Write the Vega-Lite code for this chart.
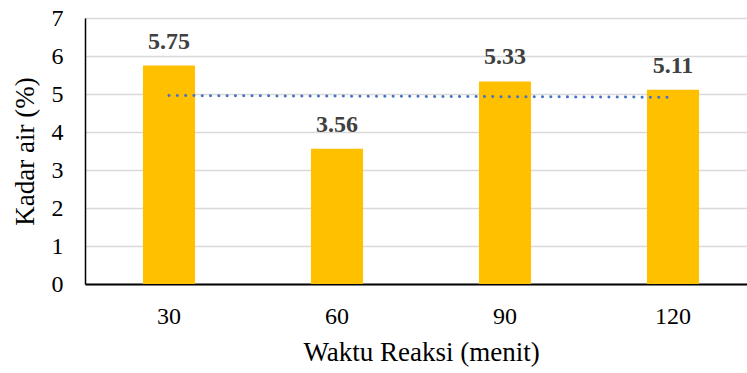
{
  "$schema": "https://vega.github.io/schema/vega-lite/v6.json",
  "autosize": {"type": "none"},
  "padding": {"left": 85, "top": 18, "right": 0, "bottom": 89},
  "width": 672,
  "height": 266,
  "background": "white",
  "config": {
    "view": {"stroke": null},
    "font": "Liberation Serif",
    "axis": {"labelFont": "Liberation Serif", "titleFont": "Liberation Serif", "labelColor": "black", "titleColor": "black", "titleFontWeight": "normal"}
  },
  "data": {
    "values": [
      {"waktu": "30", "kadar": 5.75, "trend": 4.96},
      {"waktu": "60", "kadar": 3.56, "trend": 4.945},
      {"waktu": "90", "kadar": 5.33, "trend": 4.93},
      {"waktu": "120", "kadar": 5.11, "trend": 4.915}
    ]
  },
  "encoding": {
    "x": {
      "field": "waktu",
      "type": "ordinal",
      "sort": null,
      "scale": {"paddingInner": 0.69, "paddingOuter": 0.345},
      "axis": {
        "title": "Waktu Reaksi (menit)",
        "titleFontSize": 27,
        "titlePadding": 11,
        "labelFontSize": 24,
        "labelAngle": 0,
        "labelPadding": 20,
        "ticks": false,
        "domainColor": "black",
        "domainWidth": 2,
        "grid": false
      }
    }
  },
  "layer": [
    {
      "mark": {"type": "bar", "color": "#FFC000"},
      "encoding": {
        "y": {
          "field": "kadar",
          "type": "quantitative",
          "scale": {"domain": [0, 7]},
          "axis": {
            "title": "Kadar air (%)",
            "titleFontSize": 27,
            "titlePadding": 12,
            "labelFontSize": 24,
            "labelPadding": 22,
            "ticks": false,
            "tickCount": 7,
            "domainColor": "black",
            "domainWidth": 1.5,
            "gridColor": "#d9d9d9",
            "gridWidth": 1.5
          }
        }
      }
    },
    {
      "mark": {"type": "text", "baseline": "alphabetic", "dy": -17, "fontSize": 24, "fontWeight": "bold", "color": "#404040", "font": "Liberation Serif"},
      "encoding": {
        "y": {"field": "kadar", "type": "quantitative"},
        "text": {"field": "kadar", "type": "quantitative", "format": ".2f"}
      }
    },
    {
      "mark": {"type": "line", "color": "#4472C4", "strokeWidth": 3, "strokeCap": "round", "strokeDash": [0.1, 8.2]},
      "encoding": {
        "y": {"field": "trend", "type": "quantitative"}
      }
    }
  ]
}
